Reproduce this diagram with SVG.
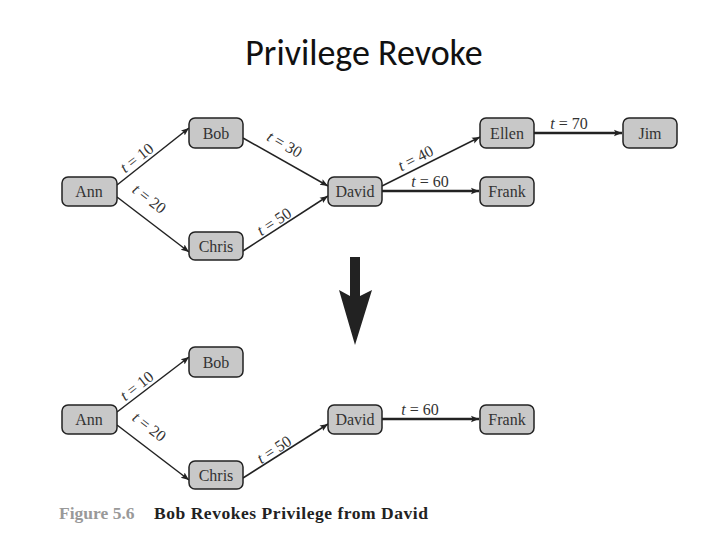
<svg xmlns="http://www.w3.org/2000/svg" width="720" height="540" viewBox="0 0 720 540">
<defs>
<marker id="ah" viewBox="0 0 10 10" refX="10" refY="5" markerWidth="8" markerHeight="8" markerUnits="userSpaceOnUse" orient="auto"><path d="M0,1 L10,5 L0,9 L2,5 Z" fill="#222"/></marker>
<style>
.n rect{fill:#c8c8c8;stroke:#222;stroke-width:1.5}
.n text{font-family:"Liberation Serif",serif;font-size:16px;fill:#333;text-anchor:middle}
.c line{stroke:#222;stroke-width:1.5;marker-end:url(#ah)}
.c line.t{stroke-width:2.5}
.l{font-family:"Liberation Serif",serif;font-size:16px;fill:#333;text-anchor:middle}
.l tspan{font-style:italic}
</style>
</defs>
<rect width="720" height="540" fill="#fff"/>
<text x="364" y="65" font-family="Calibri,'Liberation Sans',sans-serif" font-size="36" text-anchor="middle" fill="#111">Privilege Revoke</text>
<g class="c">
<line x1="117" y1="185" x2="189" y2="128"/>
<line x1="117" y1="197" x2="189" y2="252"/>
<line x1="243" y1="138" x2="328" y2="186"/>
<line x1="243" y1="251" x2="328" y2="196"/>
<line x1="382" y1="186" x2="480" y2="137"/>
<line class="t" x1="382" y1="191" x2="479" y2="191"/>
<line class="t" x1="534" y1="133" x2="622" y2="133"/>
<line x1="117" y1="412" x2="189" y2="357"/>
<line x1="117" y1="425" x2="189" y2="480"/>
<line x1="243" y1="478" x2="328" y2="424"/>
<line class="t" x1="382" y1="419" x2="479" y2="419"/>
</g>
<g>
<text class="l" transform="translate(140,162) rotate(-38)"><tspan>t</tspan> = 10</text>
<text class="l" transform="translate(146,203) rotate(38)"><tspan>t</tspan> = 20</text>
<text class="l" transform="translate(282,149) rotate(30)"><tspan>t</tspan> = 30</text>
<text class="l" transform="translate(277,226) rotate(-33)"><tspan>t</tspan> = 50</text>
<text class="l" transform="translate(418,163) rotate(-27)"><tspan>t</tspan> = 40</text>
<text class="l" x="430" y="187"><tspan>t</tspan> = 60</text>
<text class="l" x="569" y="129"><tspan>t</tspan> = 70</text>
<text class="l" transform="translate(140,390) rotate(-38)"><tspan>t</tspan> = 10</text>
<text class="l" transform="translate(146,431) rotate(38)"><tspan>t</tspan> = 20</text>
<text class="l" transform="translate(277,454) rotate(-33)"><tspan>t</tspan> = 50</text>
<text class="l" x="420" y="415"><tspan>t</tspan> = 60</text>
</g>
<g id="ann" class="n"><rect x="62" y="177" width="55" height="29" rx="6"/><text x="89" y="197">Ann</text></g>
<g id="bob" class="n"><rect x="189" y="118" width="54" height="30" rx="6"/><text x="216" y="139">Bob</text></g>
<g id="chris" class="n"><rect x="189" y="232" width="54" height="28" rx="6"/><text x="216" y="252">Chris</text></g>
<g id="david" class="n"><rect x="328" y="177" width="54" height="29" rx="6"/><text x="355" y="197">David</text></g>
<g id="ellen" class="n"><rect x="480" y="118" width="54" height="30" rx="6"/><text x="507" y="139">Ellen</text></g>
<g id="frank" class="n"><rect x="480" y="177" width="54" height="29" rx="6"/><text x="507" y="197">Frank</text></g>
<g id="jim" class="n"><rect x="623" y="118" width="54" height="30" rx="6"/><text x="650" y="139">Jim</text></g>
<polygon points="350,257 360,257 360,296 372,290 355,345 339,290 350,296" fill="#222"/>
<g id="bob2" class="n"><rect x="189" y="347" width="54" height="30" rx="6"/><text x="216" y="368">Bob</text></g>
<g id="ann2" class="n"><rect x="62" y="405" width="55" height="29" rx="6"/><text x="89" y="425">Ann</text></g>
<g id="chris2" class="n"><rect x="189" y="461" width="54" height="28" rx="6"/><text x="216" y="481">Chris</text></g>
<g id="david2" class="n"><rect x="328" y="405" width="54" height="29" rx="6"/><text x="355" y="425">David</text></g>
<g id="frank2" class="n"><rect x="480" y="405" width="54" height="29" rx="6"/><text x="507" y="425">Frank</text></g>
<text x="59" y="519" font-family="'Liberation Serif',serif" font-size="17.5" font-weight="bold" fill="#999">Figure 5.6</text>
<text x="154" y="519" font-family="'Liberation Serif',serif" font-size="17.5" font-weight="bold" fill="#222" textLength="274">Bob Revokes Privilege from David</text>
</svg>
